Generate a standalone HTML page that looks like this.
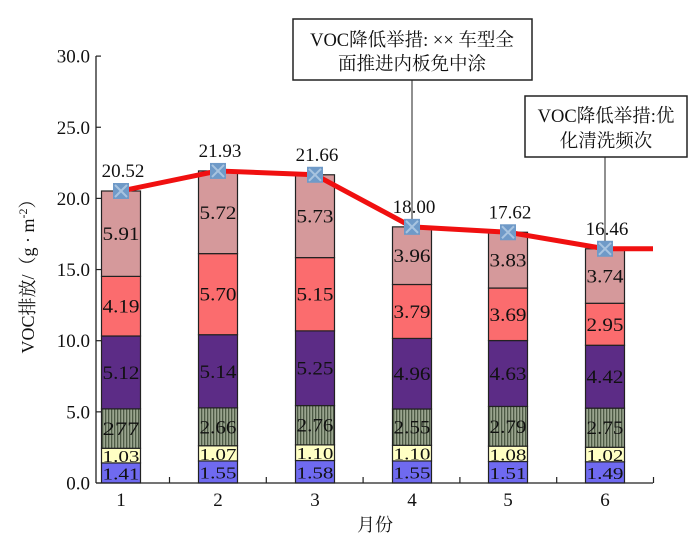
<!DOCTYPE html>
<html><head><meta charset="utf-8"><style>
html,body{margin:0;padding:0;background:#fff;}
svg{display:block;font-family:"Liberation Serif","Noto Serif CJK SC",serif;}
</style></head><body>
<svg id="s" width="700" height="545" xmlns="http://www.w3.org/2000/svg">
<defs>
<pattern id="st" width="3" height="4" patternUnits="userSpaceOnUse">
<rect width="3" height="4" fill="#9aa58f"/><rect width="1.3" height="4" fill="#4d5a45"/>
</pattern>
</defs>
</svg>
<script>
var s=document.getElementById('s');var NS='http://www.w3.org/2000/svg';
function el(t,a,txt){var e=document.createElementNS(NS,t);for(var k in a)e.setAttribute(k,a[k]);if(txt!=null)e.textContent=txt;s.appendChild(e);return e;}
var y0=483,sc=14.23;function Y(v){return y0-v*sc;}
var cx=[121,218,315,412,508,605];
var data=[[1.41,1.03,2.77,5.12,4.19,5.91],[1.55,1.07,2.66,5.14,5.70,5.72],[1.58,1.10,2.76,5.25,5.15,5.73],[1.55,1.10,2.55,4.96,3.79,3.96],[1.51,1.08,2.79,4.63,3.69,3.83],[1.49,1.02,2.75,4.42,2.95,3.74]];
var lab=[["1.41","1.03","277","5.12","4.19","5.91"],["1.55","1.07","2.66","5.14","5.70","5.72"],["1.58","1.10","2.76","5.25","5.15","5.73"],["1.55","1.10","2.55","4.96","3.79","3.96"],["1.51","1.08","2.79","4.63","3.69","3.83"],["1.49","1.02","2.75","4.42","2.95","3.74"]];
var tot=[20.52,21.93,21.66,18.00,17.62,16.46];
var cols=["#6f6af0","#ffffc4","url(#st)","#5c2c86","#fb6c6e","#d5999b"];
for(var i=0;i<6;i++){var c=0;for(var j=0;j<6;j++){var v=data[i][j];if(j==5)v=tot[i]-c;var ya=Y(c+v),yb=Y(c);
el('rect',{x:cx[i]-19.5,y:ya,width:39,height:yb-ya,fill:cols[j],stroke:'#222','stroke-width':1.2});
el('text',{x:cx[i],y:(ya+yb)/2+6.5,'font-size':j<2?17:19,'text-anchor':'middle',fill:'#111',textLength:37,lengthAdjust:'spacingAndGlyphs'},lab[i][j]);c+=v;}}
el('line',{x1:96,y1:56,x2:96,y2:483,stroke:'#222','stroke-width':1.3});
el('line',{x1:96,y1:483,x2:653,y2:483,stroke:'#222','stroke-width':1.3});
for(var k=0;k<=6;k++){var yy=Y(k*5);el('line',{x1:96,y1:yy,x2:101,y2:yy,stroke:'#222','stroke-width':1.2});
el('text',{x:90,y:yy+6.5,'font-size':19,'text-anchor':'end',fill:'#111'},(k*5).toFixed(1));}
for(var k=0;k<6;k++){var xx=169.5+k*96.8;el('line',{x1:xx,y1:483,x2:xx,y2:477,stroke:'#222','stroke-width':1.2});
el('text',{x:cx[k],y:506,'font-size':19,'text-anchor':'middle',fill:'#111'},String(k+1));}
el('text',{x:375,y:531,'font-size':18,'text-anchor':'middle',fill:'#111'},'月份');
var t=el('text',{x:0,y:0,'font-size':18,'text-anchor':'middle',fill:'#111',transform:'translate(34,272) rotate(-90)'},'VOC排放/（g · m');
var ts=document.createElementNS(NS,'tspan');ts.setAttribute('dy','-7');ts.setAttribute('font-size','12');ts.textContent='-2';t.appendChild(ts);
var ts2=document.createElementNS(NS,'tspan');ts2.setAttribute('dy','7');ts2.textContent='）';t.appendChild(ts2);
el('line',{x1:412,y1:80,x2:412,y2:Y(18)-2,stroke:'#222','stroke-width':1});
el('line',{x1:605,y1:157,x2:605,y2:Y(16.46)-2,stroke:'#222','stroke-width':1});
el('rect',{x:293,y:19,width:239,height:61,fill:'#fff',stroke:'#222','stroke-width':1.5});
el('text',{x:412,y:46,'font-size':18.5,'text-anchor':'middle',fill:'#111'},'VOC降低举措: ×× 车型全');
el('text',{x:412,y:70,'font-size':18.5,'text-anchor':'middle',fill:'#111'},'面推进内板免中涂');
el('rect',{x:525,y:96,width:162,height:61,fill:'#fff',stroke:'#222','stroke-width':1.5});
el('text',{x:606,y:122,'font-size':18.5,'text-anchor':'middle',fill:'#111'},'VOC降低举措:优');
el('text',{x:606,y:147,'font-size':18.5,'text-anchor':'middle',fill:'#111'},'化清洗频次');
var pts=cx.map(function(x,i){return x+','+Y(tot[i]);}).join(' ')+' 653,'+Y(16.46);
el('polyline',{points:pts,fill:'none',stroke:'#f01010','stroke-width':5,'stroke-linejoin':'round'});
for(var i=0;i<6;i++){var x=cx[i],y=Y(tot[i]);
el('rect',{x:x-8,y:y-8,width:16,height:16,fill:'#6f9ac8'});
el('path',{d:'M'+(x-6)+' '+(y-6)+'L'+(x+6)+' '+(y+6)+'M'+(x+6)+' '+(y-6)+'L'+(x-6)+' '+(y+6),stroke:'#a8c4e0','stroke-width':2});
el('text',{x:x+2,y:y-14,'font-size':19,'text-anchor':'middle',fill:'#111'},tot[i].toFixed(2));}
</script>
</body></html>
